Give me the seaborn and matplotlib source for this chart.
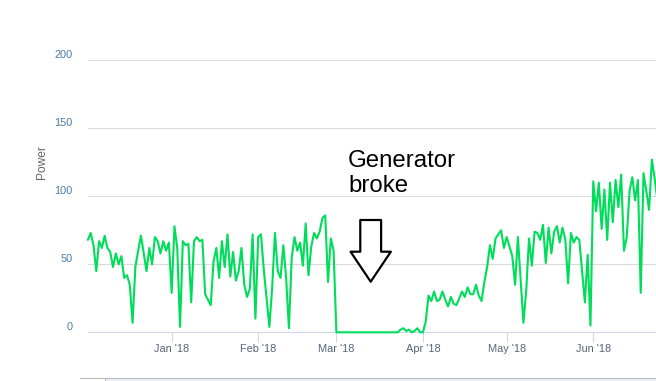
import numpy as np
import pandas as pd
import matplotlib
matplotlib.use('Agg')
import matplotlib.pyplot as plt
import matplotlib.dates as mdates
from matplotlib.transforms import ScaledTranslation
from matplotlib.lines import Line2D
from matplotlib.patches import Rectangle
import seaborn as sns

# ---------------- data ----------------
start_date = '2017-12-02'
power = [
    # Dec 2 - Dec 31
    68, 73, 64, 45, 67, 62, 71, 62, 59, 48,
    58, 50, 56, 40, 42, 35, 7, 48, 60, 71,
    58, 45, 62, 50, 70, 67, 58, 67, 60, 66,
    # Jan
    29, 78, 62, 4, 67, 64, 65, 22, 67, 70,
    67, 68, 28, 24, 20, 52, 62, 40, 67, 48,
    72, 41, 59, 38, 45, 62, 35, 26, 32, 72, 10,
    # Feb
    70, 72, 46, 25, 4, 33, 73, 45, 40, 64,
    40, 3, 55, 70, 60, 66, 49, 80, 42, 63,
    73, 69, 74, 84, 86, 37, 69, 60,
    # Mar
    0, 0, 0, 0, 0, 0, 0, 0, 0, 0,
    0, 0, 0, 0, 0, 0, 0, 0, 0, 0,
    0, 0, 0, 2, 3, 1, 2, 0, 1, 3, 0,
    # Apr
    0, 8, 27, 23, 30, 23, 24, 30, 24, 19,
    26, 21, 20, 25, 30, 26, 33, 28, 28, 35,
    27, 23, 37, 48, 64, 54, 69, 72, 75, 62,
    # May
    70, 63, 56, 35, 70, 38, 7, 31, 69, 49,
    74, 73, 68, 79, 51, 77, 58, 74, 78, 66,
    77, 68, 36, 73, 66, 70, 68, 45, 22, 57, 5,
    # Jun
    111, 89, 110, 76, 105, 68, 110, 81, 112, 92,
    116, 60, 70, 104, 114, 97, 112, 29, 117, 104,
    90, 127, 113, 97,
]
y_ticks = [0, 50, 100, 150, 200]
y_label = 'Power'
note_lines = ['Generator', 'broke']

# ---------------- style ----------------
sns.set_theme(style='white')
plt.rcParams['font.family'] = ['Liberation Sans', 'DejaVu Sans']

W, H = 656, 381
DPI = 100
PX = 72.0 / DPI  # points per pixel

dates = pd.date_range(start_date, periods=len(power), freq='D')
df = pd.DataFrame({'date': dates, 'Power': power})
t0 = pd.Timestamp(start_date)
def day(d):
    return t0 + pd.Timedelta(days=d)

fig = plt.figure(figsize=(W / DPI, H / DPI), dpi=DPI)
fig.patch.set_facecolor('white')
x0, x1 = 87.9, 656
y0, y1 = 332.3, 60.3
ax = fig.add_axes([x0 / W, (H - y0) / H, (x1 - x0) / W, (y0 - y1) / H])
ax.set_facecolor('white')

sns.lineplot(data=df, x='date', y='Power', ax=ax, color='#00dd5b',
             lw=2.1 * PX, clip_on=False, zorder=3)

ax.set_xlim(day(0), day((x1 - x0) / 2.792))
ax.set_ylim(0, 200)
ax.set_yticks(y_ticks)
ax.grid(axis='y', color='#d9d9d9', lw=1 * PX)
ax.grid(axis='x', visible=False)

for s in ['left', 'right', 'top']:
    ax.spines[s].set_visible(False)
ax.spines['bottom'].set_color('#ccd6eb')
ax.spines['bottom'].set_linewidth(1 * PX)

ax.xaxis.set_major_locator(mdates.MonthLocator())
ax.xaxis.set_major_formatter(mdates.DateFormatter("%b '%y"))
ax.tick_params(axis='x', bottom=True, length=10 * PX, width=1 * PX,
               color='#ccd6eb', pad=1, labelsize=11 * PX, labelcolor='#56657a',
               direction='out')
ax.tick_params(axis='y', left=False, length=0, pad=15 * PX,
               labelsize=11 * PX, labelcolor='#4b7aa5')
for lab in ax.get_yticklabels():
    lab.set_transform(lab.get_transform() +
                      ScaledTranslation(0, 6 / DPI, fig.dpi_scale_trans))

ax.set_xlabel('')
ax.set_ylabel(y_label, fontsize=12 * PX, color='#666666')
ax.yaxis.set_label_coords(-0.071, 0.626)

# annotation text
ax.text(day((348 - x0) / 2.792), (y0 - 166.7) / 1.36, note_lines[0],
        fontsize=24 * PX, color='black', ha='left', va='baseline')
ax.text(day((348 - x0) / 2.792), (y0 - 191.7) / 1.36, note_lines[1],
        fontsize=24 * PX, color='black', ha='left', va='baseline')

# hollow block arrow
tip_day = (370.7 - x0) / 2.792
ax.annotate('', xy=(day(tip_day), (y0 - 281.7) / 1.36),
            xytext=(day(tip_day), (y0 - 220) / 1.36),
            arrowprops=dict(arrowstyle='simple,head_length=2.16,head_width=2.9,tail_width=1.5',
                            mutation_scale=10, fc='white', ec='black',
                            lw=2.2 * PX, shrinkA=0, shrinkB=0),
            annotation_clip=False)

# navigator top edge
fig.add_artist(Rectangle((105 / W, 0), (W - 105) / W, (H - 378) / H,
                         transform=fig.transFigure, facecolor='#e9edf5',
                         edgecolor='none'))
fig.add_artist(Line2D([80 / W, 1], [(H - 378) / H] * 2, transform=fig.transFigure,
                      color='#b5b5b5', lw=1 * PX))
fig.add_artist(Line2D([105 / W, 105 / W], [0, (H - 378) / H], transform=fig.transFigure,
                      color='#b5b5b5', lw=1 * PX))

fig.savefig('out.png', dpi=DPI, facecolor='white')
